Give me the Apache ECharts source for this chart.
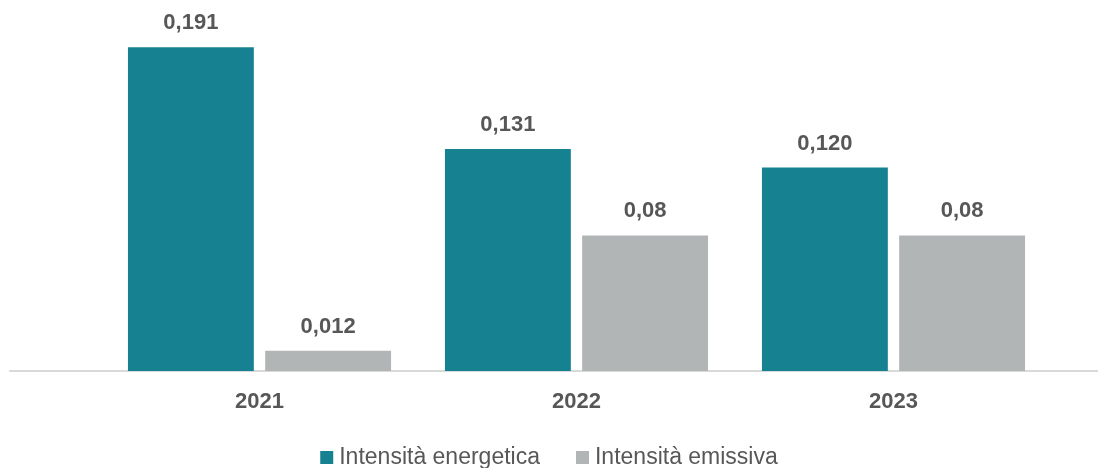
<!DOCTYPE html>
<html>
<head>
<meta charset="utf-8">
<script src="https://cdn.jsdelivr.net/npm/echarts@6/dist/echarts.min.js"></script>
<style>
  html, body { margin: 0; padding: 0; background: #ffffff; }
  #chart { width: 1098px; height: 468px; }
</style>
</head>
<body>
<div id="chart"></div>
<script>
// Years on the category axis
const years = ['2021', '2022', '2023'];
// Series names shown in the legend
const seriesNames = ['Intensità energetica', 'Intensità emissiva'];
// Values per year
const energetica = [0.191, 0.131, 0.120];
const emissiva = [0.012, 0.08, 0.08];
// Decimals used for each value label
const energeticaDecimals = [3, 3, 3];
const emissivaDecimals = [3, 2, 2];

const TEAL = '#168291';
const GREY = '#b2b5b6';
const TEXT = '#575757';
const FONT = '"Liberation Sans", Arial, Helvetica, sans-serif';

function fmt(v, d) {
  return v.toFixed(d).replace('.', ',');
}

const chart = echarts.init(document.getElementById('chart'), null, { renderer: 'canvas' });

const valueLabel = (decimals) => ({
  show: true,
  position: 'top',
  distance: 13,
  fontFamily: FONT,
  fontSize: 22,
  fontWeight: 'bold',
  color: TEXT,
  formatter: (p) => fmt(p.value, decimals[p.dataIndex])
});

chart.setOption({
  animation: false,
  backgroundColor: '#ffffff',
  legend: {
    data: seriesNames,
    top: 441,
    left: 'center',
    itemWidth: 13,
    itemHeight: 13,
    itemGap: 36,
    icon: 'rect',
    textStyle: { fontFamily: FONT, fontSize: 23, color: TEXT, padding: [0, 0, 0, 1] }
  },
  grid: [
    { left: 101, right: 46, top: 32, bottom: 97 },
    { left: 10, right: 0, top: 32, bottom: 97 }
  ],
  xAxis: [
    {
      type: 'category',
      data: years,
      gridIndex: 0,
      axisLine: { show: false },
      axisTick: { show: false },
      axisLabel: {
        margin: 20,
        fontFamily: FONT,
        fontSize: 22,
        fontWeight: 'bold',
        color: TEXT
      }
    },
    {
      // full-width baseline under the bars
      type: 'value',
      gridIndex: 1,
      min: 0,
      max: 1,
      axisLine: { show: true, lineStyle: { color: '#d9d9d9', width: 2 } },
      axisTick: { show: false },
      axisLabel: { show: false },
      splitLine: { show: false }
    }
  ],
  yAxis: [
    {
      type: 'value',
      gridIndex: 0,
      min: 0,
      max: 0.2,
      show: false,
      splitLine: { show: false }
    },
    {
      type: 'value',
      gridIndex: 1,
      min: 0,
      max: 1,
      show: false
    }
  ],
  series: [
    {
      name: seriesNames[0],
      type: 'bar',
      xAxisIndex: 0,
      yAxisIndex: 0,
      data: energetica,
      barGap: '9%',
      barCategoryGap: '17%',
      itemStyle: { color: TEAL },
      label: valueLabel(energeticaDecimals),
      z: 3
    },
    {
      name: seriesNames[1],
      type: 'bar',
      xAxisIndex: 0,
      yAxisIndex: 0,
      data: emissiva,
      barGap: '9%',
      barCategoryGap: '17%',
      itemStyle: { color: GREY },
      label: valueLabel(emissivaDecimals),
      z: 3
    }
  ]
});
</script>
</body>
</html>
